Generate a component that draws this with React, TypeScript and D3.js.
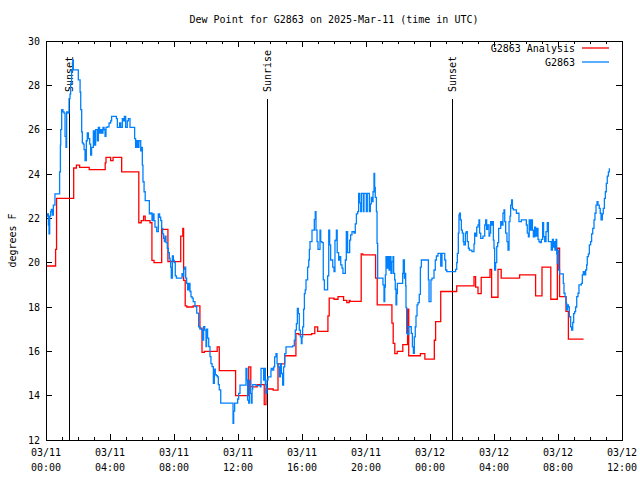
import React from 'react';
import * as d3 from 'd3';

// hours after 2025-03-11 00:00 UTC
const analysisHours = [0, 0.6, 0.66, 1.73, 1.9, 2.1, 2.7, 3.7, 3.75, 4.04, 4.19, 4.73, 5.8, 5.95, 6.1, 6.2, 6.5, 6.62, 6.75, 7.23, 7.62, 8.42, 8.55, 8.6, 8.7, 8.8, 9.2, 9.62, 9.75, 9.9, 10.7, 10.83, 11.85, 12.67, 12.8, 13.2, 13.64, 13.75, 14.2, 14.5, 14.92, 15.62, 15.8, 16.6, 16.8, 16.98, 17.62, 17.7, 18.0, 18.25, 18.6, 18.8, 18.95, 19.0, 19.7, 19.8, 20.6, 20.7, 21.62, 21.7, 21.8, 21.95, 22.3, 22.6, 22.67, 23.4, 23.68, 24.27, 24.35, 24.67, 25.67, 26.75, 26.85, 27.0, 27.2, 27.75, 27.85, 28.25, 28.45, 29.6, 30.6, 31.0, 31.55, 31.96, 32.1, 32.5, 32.65, 33.6];
const analysisValues = [19.85, 20.6, 22.9, 24.27, 24.4, 24.3, 24.2, 24.5, 24.75, 24.6, 24.75, 24.1, 21.8, 21.9, 22.1, 21.9, 21.8, 20.1, 20.0, 21.5, 20.05, 21.2, 21.55, 19.2, 18.05, 18.0, 18.05, 17.05, 15.95, 16.0, 16.2, 15.13, 14.0, 15.3, 14.4, 14.5, 13.6, 14.3, 14.25, 15.43, 15.8, 16.8, 16.75, 16.8, 17.1, 16.9, 17.6, 18.4, 18.35, 18.47, 18.3, 18.2, 18.3, 18.25, 20.4, 20.35, 19.3, 18.1, 17.27, 16.36, 15.9, 16.0, 16.3, 17.9, 15.8, 15.9, 15.65, 16.5, 17.34, 18.7, 18.95, 19.37, 18.9, 18.6, 19.34, 19.7, 18.44, 19.7, 19.3, 19.45, 18.5, 19.8, 18.35, 20.65, 18.47, 17.8, 16.55, 16.55];

const obsHours = [0.04, 0.1, 0.15, 0.19, 0.23, 0.29, 0.33, 0.4, 0.46, 0.56, 0.81, 0.85, 0.9, 0.92, 0.98, 1.06, 1.13, 1.19, 1.25, 1.29, 1.38, 1.44, 1.5, 1.54, 1.6, 1.67, 1.71, 1.92, 2.02, 2.13, 2.17, 2.23, 2.27, 2.33, 2.38, 2.44, 2.52, 2.58, 2.65, 2.73, 2.79, 2.85, 2.96, 3.04, 3.1, 3.21, 3.27, 3.35, 3.42, 3.5, 3.56, 3.63, 3.69, 3.75, 3.83, 3.94, 4.04, 4.1, 4.4, 4.46, 4.6, 4.67, 4.77, 4.83, 4.9, 4.98, 5.08, 5.15, 5.25, 5.54, 5.6, 5.67, 5.75, 5.81, 5.92, 5.96, 6.02, 6.06, 6.13, 6.2, 6.4,
  6.46, 6.55, 6.625, 6.68, 6.75, 6.81, 6.92, 7.02, 7.1, 7.17, 7.23, 7.29, 7.35, 7.4, 7.45, 7.5, 7.58, 7.65, 7.71, 7.75, 7.79, 7.83, 7.9, 7.96, 8.02, 8.08, 8.15, 8.5, 8.56, 8.6, 8.67, 8.73, 8.79, 8.85, 8.92, 9.0, 9.06, 9.13, 9.2, 9.31, 9.42, 9.48, 9.54, 9.62, 9.73, 9.79, 9.85, 9.92, 10.0, 10.04, 10.1, 10.17, 10.25, 10.31, 10.38, 10.46, 10.52, 10.58, 10.64, 10.71, 10.77, 10.83, 10.92, 11.63, 11.69, 11.73, 11.79, 11.9, 11.98,
  12.04, 12.125, 12.46, 12.5, 12.56, 12.6, 12.67, 12.71, 12.77, 12.83, 12.88, 12.92, 13.125, 13.4, 13.44, 13.54, 13.6, 13.67, 13.71, 13.75, 13.81, 13.875, 14.0, 14.06, 14.08, 14.17, 14.23, 14.29, 14.375, 14.44, 14.5, 14.58, 14.65, 14.71, 14.79, 14.85, 14.92, 15.0, 15.42, 15.52, 15.58, 15.65, 15.71, 15.77, 15.83, 15.9, 15.96, 16.0, 16.04, 16.1, 16.15, 16.2, 16.25, 16.35, 16.42, 16.46, 16.5, 16.625, 16.77, 16.83, 16.875, 16.94, 17.0, 17.125, 17.17, 17.25, 17.33, 17.4, 17.54, 17.6, 17.67, 17.73, 17.79, 17.92,
  18.0, 18.06, 18.1, 18.15, 18.2, 18.29, 18.35, 18.42, 18.5, 18.56, 18.67, 18.71, 18.77, 18.85, 18.92, 18.98, 19.04, 19.125, 19.25, 19.33, 19.4, 19.48, 19.54, 19.6, 19.67, 19.71, 19.77, 19.83, 19.875, 19.96, 20.02, 20.08, 20.15, 20.21, 20.27, 20.33, 20.38, 20.44, 20.5, 20.54, 20.58, 20.65, 20.69, 20.73, 21.0, 21.06, 21.125, 21.17, 21.21, 21.25, 21.31, 21.375, 21.44, 21.5, 21.56, 21.625, 21.69, 21.73, 21.79, 21.83, 21.875, 21.92, 21.96, 22.25, 22.29, 22.33, 22.4, 22.44, 22.48, 22.5, 22.54, 22.6, 22.67, 22.77, 22.83, 22.9, 22.96, 23.02, 23.08, 23.125, 23.19, 23.25, 23.33, 23.4, 23.46, 23.85, 23.9, 23.94, 24.02, 24.06,
  24.125, 24.2, 24.25, 24.33, 24.4, 24.5, 24.6, 24.67, 24.75, 24.85, 24.92, 24.98, 25.05, 25.5, 25.6, 25.67, 25.71, 25.77, 25.81, 25.85, 25.9, 25.96, 26.02, 26.08, 26.12, 26.21, 26.27, 26.33, 26.4, 26.46, 26.62, 26.69, 26.75, 26.79, 26.85, 26.92, 27.0, 27.06, 27.1, 27.17, 27.25, 27.31, 27.42, 27.48, 27.54, 27.6, 27.69, 27.73, 27.79, 27.85, 27.9, 27.96, 28.0, 28.04, 28.1, 28.17, 28.23, 28.29, 28.35, 28.42, 28.5, 28.56, 28.625, 28.67, 28.73, 28.81, 28.875, 28.94, 29.0, 29.04, 29.1, 29.15, 29.21, 29.4, 29.56, 29.71, 29.92, 30.02,
  30.08, 30.15, 30.2, 30.27, 30.33, 30.4, 30.46, 30.54, 30.6, 30.67, 30.75, 30.81, 30.875, 30.96, 31.04, 31.1, 31.17, 31.25, 31.33, 31.4, 31.5, 31.58, 31.65, 31.71, 31.77, 31.81, 31.88, 31.92, 31.96, 32.0, 32.04, 32.1, 32.27, 32.33, 32.375, 32.44, 32.5, 32.54, 32.6, 32.65, 32.71, 32.79, 32.85, 32.92, 32.98, 33.04, 33.1, 33.17, 33.25, 33.31, 33.46, 33.52, 33.58, 33.65, 33.73, 33.79, 33.83, 33.9, 33.96, 34.04, 34.1, 34.17, 34.25, 34.31, 34.375, 34.44, 34.5, 34.58, 34.64, 34.69, 34.77, 34.83, 34.9, 34.96, 35.02, 35.08, 35.15, 35.21];
const obsValues = [22.1, 22.2, 21.7, 21.3, 22.1, 22.3, 22.4, 22.15, 22.6, 23.1, 23.1, 24.1, 25.3, 26.0, 26.9, 26.8, 26.75, 25.7, 25.2, 26.8, 26.75, 27.4, 27.6, 28.1, 28.7, 29.15, 28.7, 28.7, 28.25, 27.7, 26.9, 25.9, 25.4, 25.35, 25.1, 24.6, 25.5, 25.85, 25.6, 25.35, 24.85, 25.2, 25.95, 25.3, 26.0, 25.5, 26.1, 25.85, 26.0, 25.85, 26.1, 26.0, 25.7, 26.1, 26.13, 26.3, 26.4, 26.6, 26.5, 26.1, 26.3, 26.1, 26.5, 26.4, 26.6, 26.1, 26.4, 26.5, 26.1, 25.6, 25.2, 25.5, 25.2, 25.5, 25.05, 25.2, 24.4, 23.65, 23.2, 22.8, 22.8,
  22.2, 22.25, 21.9, 22.2, 21.9, 21.6, 21.4, 22.2, 22.05, 21.9, 21.55, 21.3, 21.1, 20.95, 21.2, 20.9, 20.65, 20.45, 20.2, 20.1, 19.8, 19.3, 20.3, 20.1, 20.0, 19.4, 19.3, 19.5, 19.4, 19.7, 19.8, 19.3, 19.07, 18.77, 19.07, 18.7, 18.47, 18.4, 18.24, 18.02, 17.72, 17.72, 17.11, 17.0, 16.96, 16.51, 17.11, 16.96, 16.21, 17.0, 16.6, 16.21, 15.76, 15.45, 15.31, 14.56, 15.2, 14.95, 14.9, 14.85, 14.5, 14.26, 13.66, 13.66, 12.75, 13.3, 13.66, 13.66, 13.85,
  14.1, 14.48, 14.48, 15.23, 14.7, 13.8, 13.66, 14.7, 14.1, 13.66, 14.3, 14.5, 14.45, 14.4, 15.23, 15.23, 14.7, 15.23, 14.5, 14.1, 14.7, 14.85, 14.85, 15.15, 15.23, 15.15, 15.3, 15.75, 15.9, 15.45, 15.3, 14.85, 15.45, 15.0, 14.48, 15.3, 15.9, 16.2, 16.25, 16.5, 16.96, 17.25, 17.94, 17.7, 16.96, 16.65, 16.35, 16.65, 17.1, 17.9, 18.6, 18.77, 19.22, 19.8, 20.12, 20.6, 20.95, 21.47, 21.95, 22.3, 21.47, 20.95, 20.6, 21.47, 20.95, 20.9, 19.22, 18.77, 18.77, 19.4, 21.47, 20.8, 20.12, 19.8,
  19.6, 21.0, 21.02, 21.47, 20.45, 20.12, 20.27, 19.9, 19.75, 19.52, 19.52, 20.12, 21.4, 20.45, 20.45, 21.02, 21.25, 21.4, 21.33, 21.75, 22.2, 22.3, 23.13, 22.7, 22.3, 23.13, 23.13, 22.3, 23.13, 23.13, 22.3, 23.13, 23.13, 22.3, 22.65, 22.95, 22.75, 23.2, 24.03, 23.4, 22.95, 22.3, 20.87, 19.3, 19.3, 19.0, 18.24, 18.9, 19.45, 20.27, 19.75, 20.27, 19.67, 20.27, 19.52, 20.05, 20.27, 19.52, 19.22, 18.8, 18.1, 18.6, 19.07, 19.07, 19.52, 20.12, 19.3, 19.52, 18.95, 17.97, 16.81, 16.75, 17.11, 17.11, 16.81, 16.2, 15.91, 16.65, 17.11, 17.6, 18.1, 18.2, 18.57, 19.8, 20.12, 20.12, 19.22, 18.24, 18.24, 19.22,
  19.3, 19.3, 19.67, 20.12, 20.3, 20.42, 20.42, 19.85, 20.42, 20.42, 20.12, 19.67, 19.6, 19.6, 19.7, 20.0, 20.42, 21.33, 22.15, 22.23, 21.93, 21.47, 21.33, 20.95, 20.8, 21.33, 21.4, 20.95, 20.65, 20.57, 20.5, 20.5, 20.85, 21.33, 21.2, 21.6, 21.7, 21.93, 21.33, 21.1, 21.1, 21.2, 21.7, 21.93, 21.5, 21.7, 21.2, 21.33, 21.85, 21.7, 21.85, 21.02, 20.65, 19.67, 20.0, 20.72, 20.9, 21.55, 21.55, 21.85, 21.7, 22.23, 22.38, 21.85, 21.33, 20.95, 20.57, 21.85, 22.1, 22.6, 22.83, 22.45, 22.38, 22.23, 21.85, 21.93, 21.93, 21.7,
  21.33, 21.17, 21.93, 21.47, 21.93, 21.47, 21.17, 21.6, 21.2, 21.55, 21.05, 20.95, 20.9, 21.05, 21.8, 21.17, 20.95, 21.4, 21.8, 20.95, 20.95, 20.57, 21.05, 20.7, 20.95, 20.57, 21.05, 20.4, 19.97, 20.57, 19.67, 19.49, 19.49, 19.07, 18.62, 18.47, 18.17, 17.87, 18.1, 18.0, 17.56, 17.1, 16.96, 17.3, 17.7, 17.79, 18.0, 18.47, 18.62, 19.0, 19.07, 19.45, 19.6, 19.45, 19.67, 19.9, 20.27, 20.4, 20.8, 20.95, 21.3, 21.55, 21.93, 22.23, 22.6, 22.75, 22.6, 22.45, 22.23, 21.93, 22.2, 22.45, 22.9, 23.2, 23.58, 23.9, 24.1, 24.26];

const eventHours = [1.44, 13.83, 25.39];
const eventLabels = ['Sunset', 'Sunrise', 'Sunset'];

const yTicks = [12, 14, 16, 18, 20, 22, 24, 26, 28, 30];
const seriesNames = ['G2863 Analysis', 'G2863'];
const seriesColors = ['#ff0000', '#0080ff'];

const W = 640;
const H = 480;
const margin = { top: 41, right: 18, bottom: 40, left: 46 };
const FONT = '"DejaVu Sans Mono", monospace';
const t0 = Date.UTC(2025, 2, 11);
const toDate = (h: number) => new Date(t0 + h * 3600e3);

export default function App() {
  const x = d3.scaleUtc()
    .domain([toDate(0), toDate(36)])
    .range([margin.left, W - margin.right]);
  const y = d3.scaleLinear()
    .domain([12, 30])
    .range([H - margin.bottom, margin.top]);

  const majorTicks = x.ticks(d3.utcHour.every(4)!);
  const minorTicks = x.ticks(d3.utcHour.every(1)!);
  const fmtDay = d3.utcFormat('%m/%d');
  const fmtTime = d3.utcFormat('%H:%M');

  const line = d3.line<[number, number]>()
    .curve(d3.curveStepAfter)
    .x(d => x(toDate(d[0])))
    .y(d => y(d[1]));

  const analysis = analysisHours.map((h, i) => [h, analysisValues[i]] as [number, number]);
  const obs = obsHours.map((h, i) => [h, obsValues[i]] as [number, number]);

  const x0 = margin.left, x1 = W - margin.right;
  const y0 = H - margin.bottom, y1 = margin.top;
  const lineTop = y(12 + 0.855 * 18);
  const labelStart = y(12 + 0.872 * 18);

  return (
    <div style={{ position: 'absolute', left: 0, top: 0 }}>
      <svg width={W} height={H} style={{ display: 'block', background: '#fff' }} fontFamily={FONT} fontSize={10}>
        <rect x={0} y={0} width={W} height={H} fill="#fff" />
        <text x={334} y={19} textAnchor="middle" dominantBaseline="central">Dew Point for G2863 on 2025-Mar-11 (time in UTC)</text>

        {/* ticks */}
        <g stroke="#000" strokeWidth={1} shapeRendering="crispEdges">
          {yTicks.map(v => (
            <g key={'y' + v}>
              <line x1={x0} x2={x0 + 6} y1={y(v)} y2={y(v)} />
              <line x1={x1} x2={x1 - 6} y1={y(v)} y2={y(v)} />
            </g>
          ))}
          {minorTicks.map(d => {
            const major = d.getUTCHours() % 4 === 0;
            const len = major ? 6 : 3;
            return (
              <g key={'x' + d.getTime()}>
                <line x1={x(d)} x2={x(d)} y1={y0} y2={y0 - len} />
                <line x1={x(d)} x2={x(d)} y1={y1} y2={y1 + len} />
              </g>
            );
          })}
        </g>

        {yTicks.map(v => (
          <text key={'yl' + v} x={40} y={y(v)} textAnchor="end" dominantBaseline="central">{v}</text>
        ))}
        {majorTicks.map(d => (
          <g key={'xl' + d.getTime()}>
            <text x={x(d)} y={452} textAnchor="middle" dominantBaseline="central">{fmtDay(d)}</text>
            <text x={x(d)} y={467} textAnchor="middle" dominantBaseline="central">{fmtTime(d)}</text>
          </g>
        ))}
        <text transform={`translate(12,${(y0 + y1) / 2}) rotate(-90)`} textAnchor="middle" dominantBaseline="central">degrees F</text>

        {/* sunrise / sunset markers */}
        {eventHours.map((h, i) => (
          <g key={'ev' + i}>
            <line x1={x(toDate(h))} x2={x(toDate(h))} y1={y0} y2={lineTop} stroke="#000" strokeWidth={1} shapeRendering="crispEdges" />
            <text transform={`translate(${x(toDate(h))},${labelStart}) rotate(-90)`} dominantBaseline="central">{eventLabels[i]}</text>
          </g>
        ))}

        <path d={line(analysis) ?? ''} fill="none" stroke={seriesColors[0]} strokeWidth={1.3} />
        <path d={line(obs) ?? ''} fill="none" stroke={seriesColors[1]} strokeWidth={1.3} />

        {/* legend */}
        {seriesNames.map((name, i) => (
          <g key={name}>
            <text x={575} y={48 + i * 14} textAnchor="end" dominantBaseline="central">{name}</text>
            <line x1={582} x2={609} y1={48 + i * 14} y2={48 + i * 14} stroke={seriesColors[i]} strokeWidth={1.3} />
          </g>
        ))}

        <rect x={x0} y={y1} width={x1 - x0} height={y0 - y1} fill="none" stroke="#000" strokeWidth={1} shapeRendering="crispEdges" />
      </svg>
    </div>
  );
}
